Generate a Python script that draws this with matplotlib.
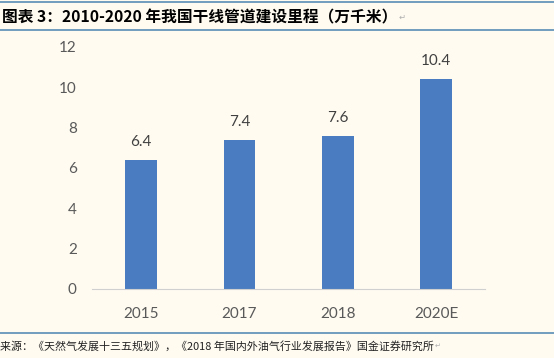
import matplotlib.pyplot as plt
from matplotlib.lines import Line2D

plt.rcParams['font.family'] = ['Lato', 'Noto Sans CJK SC', 'DejaVu Sans']

# 数据
years = ['2015', '2017', '2018', '2020E']
mileage = [6.4, 7.4, 7.6, 10.4]
y_ticks = [0, 2, 4, 6, 8, 10, 12]

title = '图表 3：2010-2020 年我国干线管道建设里程（万千米）'
source = '来源：《天然气发展十三五规划》，《2018 年国内外油气行业发展报告》国金证券研究所'

bg = '#fffbf1'
bar_color = '#4a7cc1'
line_color = '#5a8db5'
text_color = '#595959'
cjk = ['Noto Sans CJK SC', 'DejaVu Sans']

fig = plt.figure(figsize=(5.54, 3.58), dpi=100, facecolor=bg)
ax = fig.add_axes([0.166, 0.193, 0.710, 0.676], facecolor=bg)

x = range(len(years))
bars = ax.bar(x, mileage, width=0.32, color=bar_color, zorder=2)
for i, v in enumerate(mileage):
    ax.annotate(f'{v}', (i, v), xytext=(0, 8), textcoords='offset points',
                ha='center', va='bottom', fontsize=11, color='#404040')

ax.set_xlim(-0.5, 3.5)
ax.set_ylim(0, 12)
ax.set_yticks(y_ticks)
ax.set_xticks(list(x))
ax.set_xticklabels(years)
ax.tick_params(axis='y', length=0, pad=11, labelsize=11, labelcolor=text_color)
ax.tick_params(axis='x', length=0, pad=13, labelsize=11, labelcolor=text_color)
for s in ['top', 'right', 'left']:
    ax.spines[s].set_visible(False)
ax.spines['bottom'].set_color('#d0d0d0')
ax.spines['bottom'].set_linewidth(0.8)

# 标题和来源
for yy in [2, 30, 333]:
    fig.add_artist(Line2D([0, 1], [1 - yy / 358, 1 - yy / 358], color=line_color, lw=1.2))

t1 = fig.text(0.004, 1 - 17 / 358, title, fontsize=11.3, fontweight='bold',
              family=cjk, color='black', va='center')
t2 = fig.text(0.0, 1 - 346 / 358, source, fontsize=7.9,
              family=cjk, color='#222222', va='center')

# 段落标记放在文字右边
fig.canvas.draw()
r = fig.canvas.get_renderer()
for t, fs in [(t1, 6), (t2, 5)]:
    bb = t.get_window_extent(r)
    fig.text((bb.x1 + 1) / fig.bbox.width, t.get_position()[1], '↵', fontsize=fs,
             family=['DejaVu Sans'], color='#b0b0b0', va='center')

fig.savefig('out.png', dpi=100, facecolor=bg)
